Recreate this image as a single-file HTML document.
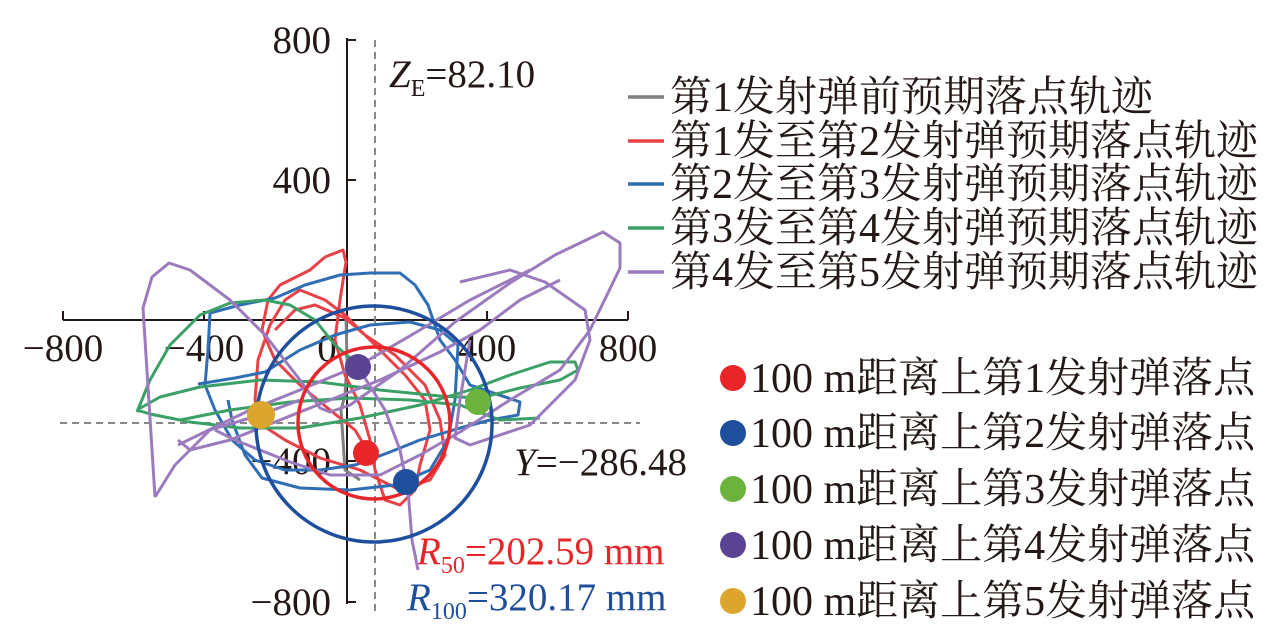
<!DOCTYPE html>
<html><head><meta charset="utf-8"><style>
html,body{margin:0;padding:0;background:#fff;width:1276px;height:644px;overflow:hidden}
svg{display:block}
.t{font-family:"Liberation Serif","Noto Serif CJK SC",serif;fill:#231815}
.lg{font-family:"Liberation Serif","Noto Serif CJK SC",serif;font-size:42px;fill:#231815}
</style></head><body>
<svg width="1276" height="644" viewBox="0 0 1276 644" xmlns="http://www.w3.org/2000/svg">
<g stroke="#231815" stroke-width="2" fill="none">
<line x1="347" y1="38" x2="347" y2="604"/>
<line x1="63" y1="320" x2="628" y2="320"/>
<line x1="347" y1="40" x2="356" y2="40"/><line x1="347" y1="180" x2="356" y2="180"/>
<line x1="347" y1="461" x2="356" y2="461"/><line x1="347" y1="602" x2="356" y2="602"/>
<line x1="63" y1="320" x2="63" y2="311"/><line x1="204" y1="320" x2="204" y2="311"/>
<line x1="487" y1="320" x2="487" y2="311"/><line x1="628" y1="320" x2="628" y2="311"/>
</g>
<g stroke="#888" stroke-width="2" stroke-dasharray="7,5" fill="none">
<line x1="375" y1="40" x2="375" y2="612"/>
<line x1="60" y1="423" x2="640" y2="423"/>
</g>
<g class="t" font-size="39">
<text x="331" y="53" text-anchor="end">800</text>
<text x="331" y="193" text-anchor="end">400</text>
<text x="331" y="474" text-anchor="end">−400</text>
<text x="331" y="615" text-anchor="end">−800</text>
<text x="63" y="361" text-anchor="middle">−800</text>
<text x="204" y="361" text-anchor="middle">−400</text>
<text x="327" y="361" text-anchor="middle">0</text>
<text x="487" y="361" text-anchor="middle">400</text>
<text x="628" y="361" text-anchor="middle">800</text>
<text x="389" y="87"><tspan font-style="italic">Z</tspan><tspan font-size="24" dy="9">E</tspan><tspan dy="-9">=82.10</tspan></text>
<text x="514" y="475"><tspan font-style="italic">Y</tspan>=−286.48</text>
</g>
<text class="t" x="417" y="564" font-size="39" style="fill:#e8262a"><tspan font-style="italic">R</tspan><tspan font-size="24" dy="9">50</tspan><tspan dy="-9">=202.59 mm</tspan></text>
<text class="t" x="407" y="610" font-size="39" style="fill:#1e4e9c"><tspan font-style="italic">R</tspan><tspan font-size="24" dy="9">100</tspan><tspan dy="-9">=320.17 mm</tspan></text>
<g fill="none" stroke-width="3" stroke-linejoin="round">
<path stroke="#808080" d="M346,318 L347,360 L345,395 L341,410 L343,440 L345,470 L360,480"/>
<path stroke="#e84147" d="M325,257 L343,250 L346,262 L340,300 L335,340 L345,375 L360,405 L370,440 L375,470 L385,500 L400,505 L415,490 L420,465 L430,430 L425,400 L405,375 L380,350 L360,330 L345,315 L325,300 L300,290 L285,300 L270,325 L258,360 L255,400 L262,425 L285,440 L320,458 L360,470 L400,490 L430,480 L445,455 L440,420 L425,385 L395,355 L365,335 L345,318 L315,305 L295,310 L275,330 M325,257 L310,270 L280,285 L268,300 L262,330 L275,360 L300,385 L330,410 L355,430 L370,455"/>
<path stroke="#2f6db5" d="M210,313 L240,305 L275,298 L305,285 L340,275 L370,273 L400,273 L415,285 L428,305 L440,340 L455,360 L470,385 L520,402 L518,415 L490,420 L460,428 L420,440 L390,452 L355,465 L320,470 L285,470 L255,460 L232,440 L215,410 L205,385 L208,350 L210,313 M198,384 L235,378 L265,372 L300,350 L335,335 L370,325 L410,322 L440,330 L458,345 L455,400 L448,440 L430,470 L395,485 L350,490 L300,488 L262,478 L245,455 L232,420 L228,400"/>
<path stroke="#3aa066" d="M137,412 L150,380 L170,345 L200,315 L230,303 L265,300 L290,305 L315,320 L335,345 L350,358 M137,410 L160,397 L200,387 L260,380 L320,382 L380,390 L440,396 L480,398 L520,388 L560,380 L578,370 L575,362 L550,362 L510,375 L470,390 L420,405 L360,418 L300,428 L240,428 L190,422 L150,414 L137,410 M180,420 L230,410 L290,402 L350,398 L410,400 L460,405 L500,420 L540,418"/>
<path stroke="#9b7bbd" d="M155,497 L143,308 L152,277 L169,263 L190,270 L230,300 L265,335 L300,380 L320,408 L330,412 L350,405 L400,370 L455,322 L510,283 L555,255 L603,232 L620,243 L620,268 L590,330 L560,370 L510,400 L460,432 L420,455 L380,475 L330,475 L290,462 L260,450 L235,440 L215,430 M178,440 L190,450 L230,440 L280,420 L330,400 L380,380 L440,352 L480,330 L520,300 L560,280 M460,282 L510,270 L545,282 L585,310 L590,340 L575,380 L530,425 L470,445 L455,438 L460,400 L470,340 M358,367 L385,410 L400,450 L408,490 L412,540 L418,570 M178,445 L250,410 L300,390 L360,365 L420,330 L470,300 L530,270 M155,497 L175,465 L210,430 L260,415 L300,400"/>
</g>
<circle cx="374" cy="423" r="76" fill="none" stroke="#e8262a" stroke-width="3.5"/>
<circle cx="374" cy="424" r="118" fill="none" stroke="#1e4e9c" stroke-width="3.5"/>
<circle cx="358" cy="367" r="13" fill="#5b4393"/>
<circle cx="366" cy="453" r="13" fill="#e8262a"/>
<circle cx="406" cy="482" r="13" fill="#1e4e9c"/>
<circle cx="478" cy="402" r="13" fill="#6cb33e"/>
<circle cx="261" cy="415" r="14" fill="#dca62e"/>
<g stroke-width="3.5">
<line x1="628" y1="97" x2="664" y2="97" stroke="#808080"/>
<line x1="628" y1="141" x2="664" y2="141" stroke="#e84147"/>
<line x1="628" y1="184" x2="664" y2="184" stroke="#2f6db5"/>
<line x1="628" y1="228" x2="664" y2="228" stroke="#3aa066"/>
<line x1="628" y1="272" x2="664" y2="272" stroke="#9b7bbd"/>
</g>
<text class="lg" x="670" y="111">第1发射弹前预期落点轨迹</text>
<text class="lg" x="670" y="155">第1发至第2发射弹预期落点轨迹</text>
<text class="lg" x="670" y="198">第2发至第3发射弹预期落点轨迹</text>
<text class="lg" x="670" y="242">第3发至第4发射弹预期落点轨迹</text>
<text class="lg" x="670" y="286">第4发至第5发射弹预期落点轨迹</text>
<circle cx="733" cy="378" r="13" fill="#e8262a"/>
<circle cx="733" cy="433" r="13" fill="#1e4e9c"/>
<circle cx="733" cy="489" r="13" fill="#6cb33e"/>
<circle cx="733" cy="545" r="13" fill="#5b4393"/>
<circle cx="733" cy="601" r="13" fill="#dca62e"/>
<text class="lg" x="750" y="392">100 m距离上第1发射弹落点</text>
<text class="lg" x="750" y="447">100 m距离上第2发射弹落点</text>
<text class="lg" x="750" y="503">100 m距离上第3发射弹落点</text>
<text class="lg" x="750" y="559">100 m距离上第4发射弹落点</text>
<text class="lg" x="750" y="615">100 m距离上第5发射弹落点</text>
</svg>
</body></html>
